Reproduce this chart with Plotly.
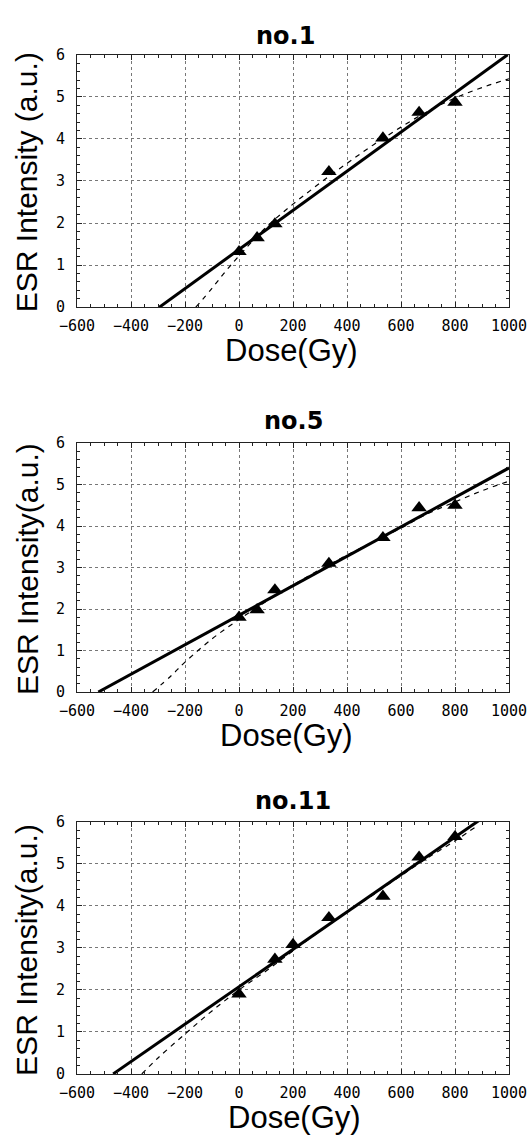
import plotly.graph_objects as go

W, H = 531, 1139

# ---------------- data ----------------
titles = ["no.1", "no.5", "no.11"]
ytitles = ["ESR Intensity (a.u.)", "ESR Intensity(a.u.)", "ESR Intensity(a.u.)"]
xtitle = "Dose(Gy)"

dose1 = [0, 67, 133, 333, 533, 667, 800]
esr1 = [1.32, 1.65, 1.98, 3.22, 4.02, 4.63, 4.87]
lin1_x = [-295, 995]
lin1_y = [0.0, 6.0]
sat1_x = [-160, -100, -50, 0, 100, 200, 300, 400, 500, 600, 700, 800, 900, 1000]
sat1_y = [0.0, 0.45, 0.85, 1.22, 1.9, 2.45, 2.95, 3.42, 3.87, 4.28, 4.66, 4.97, 5.22, 5.43]

dose5 = [0, 67, 133, 333, 533, 667, 800]
esr5 = [1.8, 1.98, 2.46, 3.1, 3.72, 4.44, 4.5]
lin5_x = [-521, 1000]
lin5_y = [0.0, 5.4]
sat5_x = [-320, -250, -200, -100, 0, 100, 200, 300, 400, 500, 600, 700, 800, 900, 1000]
sat5_y = [0.0, 0.4, 0.72, 1.28, 1.75, 2.18, 2.58, 2.95, 3.3, 3.63, 3.95, 4.3, 4.58, 4.85, 5.08]

dose11 = [0, 133, 200, 333, 533, 667, 800]
esr11 = [1.9, 2.73, 3.08, 3.72, 4.23, 5.16, 5.65]
lin11_x = [-466, 890]
lin11_y = [0.0, 6.04]
sat11_x = [-360, -300, -200, -100, 0, 100, 200, 300, 400, 500, 600, 700, 800, 885]
sat11_y = [0.0, 0.38, 0.95, 1.5, 2.0, 2.45, 2.93, 3.4, 3.85, 4.28, 4.72, 5.15, 5.55, 5.92]

xrange_ = [-600, 1000]
yrange_ = [0, 6]

panels = [
    (dose1, esr1, lin1_x, lin1_y, sat1_x, sat1_y),
    (dose5, esr5, lin5_x, lin5_y, sat5_x, sat5_y),
    (dose11, esr11, lin11_x, lin11_y, sat11_x, sat11_y),
]

# ---------------- layout geometry (pixels) ----------------
PL, PR = 77, 509
panel_px = [(46.5, 303), (441, 694), (826, 1082)]  # top, bottom
title_px = [(285, 27), (293, 419), (293, 805)]
xt_px = [(291, 347), (286, 738), (294, 1126)]
yt_px = [(26, 176), (27, 569), (27, 956)]

ML = PL
plot_w = PR - PL
MR = W - ML - plot_w


def px_x(px):
    return (px - ML) / plot_w


def px_y(py):
    return (H - py) / H


fig = go.Figure()
annotations = []
axis_font = dict(family="DejaVu Sans Mono", size=15, color="black")

for i, (dx, dy, lx, ly, sx, sy) in enumerate(panels):
    n = "" if i == 0 else str(i + 1)
    xa, ya = "x" + n, "y" + n
    fig.add_trace(go.Scatter(x=lx, y=ly, mode="lines", xaxis=xa, yaxis=ya,
                             line=dict(color="black", width=3), showlegend=False))
    fig.add_trace(go.Scatter(x=sx, y=sy, mode="lines", xaxis=xa, yaxis=ya,
                             line=dict(color="black", width=1.2, dash="5px,5px"),
                             line_shape="spline", showlegend=False))
    fig.add_trace(go.Scatter(x=dx, y=dy, mode="markers", xaxis=xa, yaxis=ya,
                             marker=dict(symbol="triangle-up", size=13.5, color="black"),
                             cliponaxis=False, showlegend=False))
    top, bot = panel_px[i]
    common = dict(showgrid=True, gridcolor="#777", griddash="dot", gridwidth=1,
                  showline=True, linecolor="#222", linewidth=1, mirror="allticks",
                  ticks="inside", ticklen=5, tickcolor="#222", zeroline=False,
                  tickfont=axis_font)
    fig.layout["xaxis" + n] = dict(
        domain=[0, 1], anchor=ya, range=xrange_, dtick=200, tick0=0,
        minor=dict(dtick=50, ticklen=3, ticks="inside", tickcolor="#222", showgrid=False),
        ticklabelstandoff=5, **common)
    fig.layout["yaxis" + n] = dict(
        domain=[px_y(bot), px_y(top)], anchor=xa, range=yrange_, dtick=1, tick0=0,
        minor=dict(dtick=0.2, ticklen=3, ticks="inside", tickcolor="#222", showgrid=False),
        ticklabelstandoff=8, **common)

    tx, ty = title_px[i]
    annotations.append(dict(text="<b>" + titles[i] + "</b>", x=px_x(tx), y=px_y(ty),
                            xref="paper", yref="paper", showarrow=False,
                            xanchor="center", yanchor="middle",
                            font=dict(family="DejaVu Sans", size=24, color="black")))
    ax, ay = xt_px[i]
    annotations.append(dict(text=xtitle, x=px_x(ax), y=px_y(ay),
                            xref="paper", yref="paper", showarrow=False,
                            xanchor="center", yanchor="middle",
                            font=dict(family="Liberation Sans", size=31, color="black")))
    yx, yy = yt_px[i]
    annotations.append(dict(text=ytitles[i], x=px_x(yx), y=px_y(yy),
                            xref="paper", yref="paper", showarrow=False, textangle=-90,
                            xanchor="center", yanchor="middle",
                            font=dict(family="Liberation Sans", size=30, color="black")))

fig.update_layout(
    width=W, height=H,
    margin=dict(l=ML, r=MR, t=0, b=0),
    paper_bgcolor="white", plot_bgcolor="white",
    annotations=annotations,
    showlegend=False,
)

# remove the default page margin so the figure sits at the window's corner
fig.write_html("out.html", config={"displayModeBar": False},
               post_script="document.body.style.margin='0';document.body.style.overflow='hidden';")
